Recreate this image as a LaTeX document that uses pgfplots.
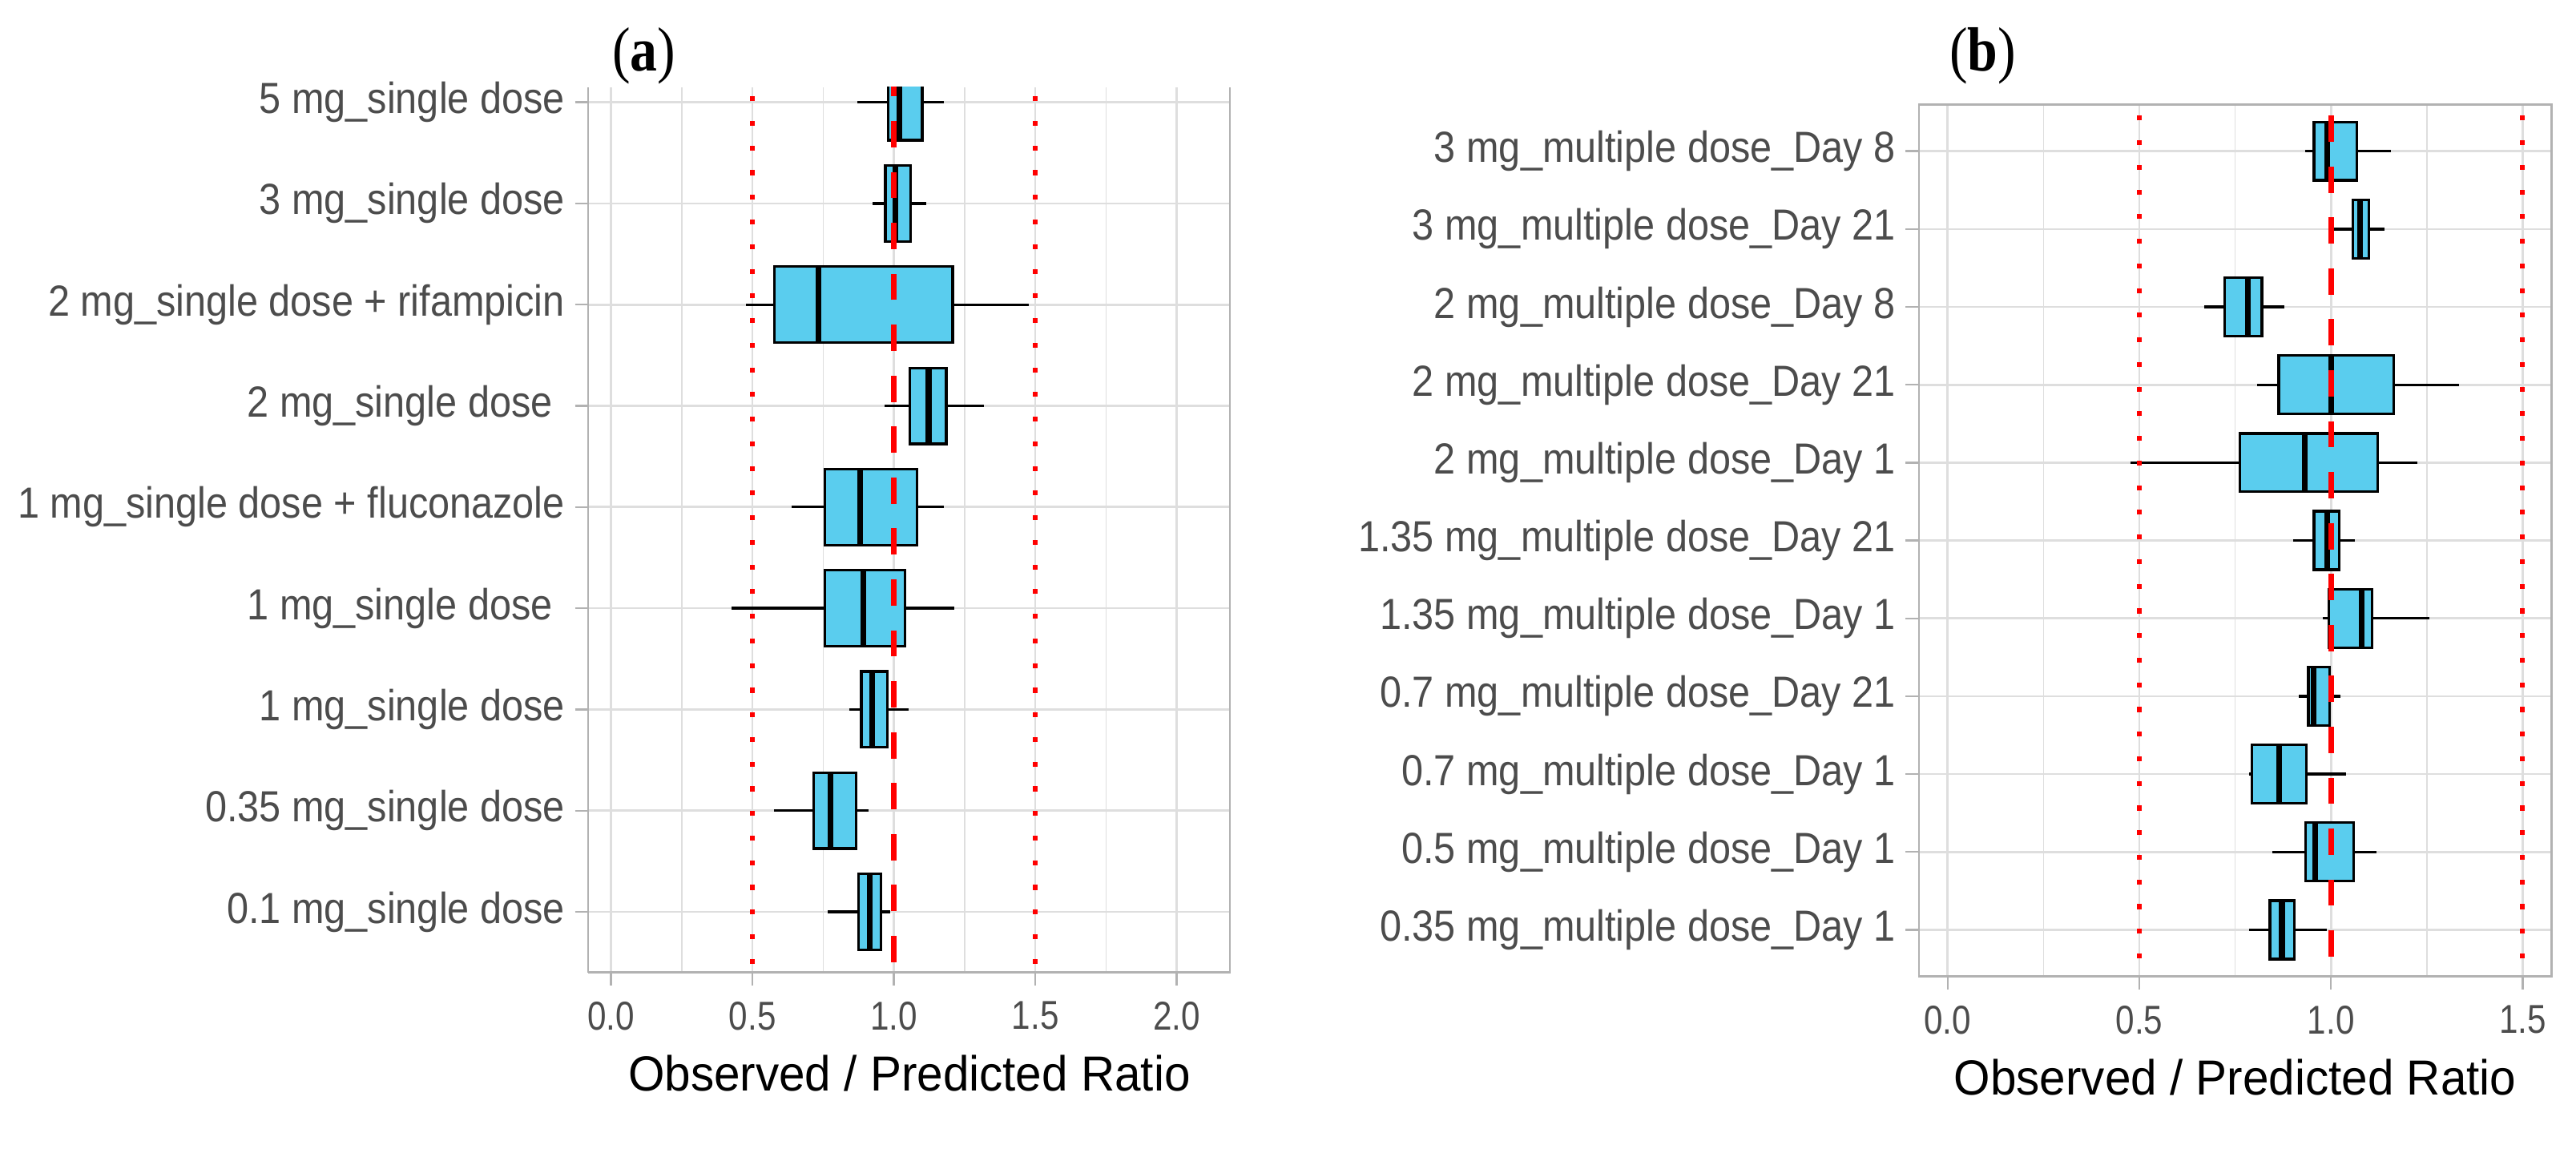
\documentclass[border=0pt]{standalone}
\usepackage{fontspec}
\setmainfont{Liberation Sans}
\newfontfamily\ysf{Liberation Sans}[FakeStretch=0.895]
\newfontfamily\xsf{Liberation Sans}[FakeStretch=0.84]
\newfontfamily\labsf{Liberation Sans}[FakeStretch=0.95]
\newfontfamily\titlesf{Liberation Serif}[FakeStretch=0.87]
\usepackage{pgfplots}
\pgfplotsset{compat=1.18}
\usepgfplotslibrary{statistics}

\definecolor{boxc}{RGB}{90,205,238}
\definecolor{grey70}{gray}{0.70}
\definecolor{grey87}{gray}{0.87}
\definecolor{grey30}{gray}{0.30}
\definecolor{refred}{RGB}{255,0,0}

\pgfplotsset{
  ggbox/.style={
    scale only axis,
    anchor=south west,
    tick align=outside,
    major tick length=8pt,
    minor tick length=0pt,
    tick style={grey70, line width=1.2pt},
    axis line style={grey70, line width=1.3pt, -},
    xmajorgrids, ymajorgrids, xminorgrids,
    major grid style={grey87, line width=1.3pt},
    minor grid style={grey87, line width=0.8pt},
    minor x tick num=1,
    yticklabel style={font=\ysf\fontsize{26.5}{30}\selectfont, text=grey30,
      anchor=east, inner sep=0pt, xshift=-6pt},
    xticklabel style={font=\xsf\fontsize{24.5}{28}\selectfont, text=grey30,
      anchor=north, inner sep=0pt, yshift=-9.5pt},
    xlabel={Observed / Predicted Ratio},
    xlabel style={font=\labsf\fontsize{30}{34}\selectfont, text=black,
      at={(axis description cs:0.5,0)}, anchor=base, yshift=-72pt},
    boxplot/draw direction=x,
    boxplot/box extend=0.75,
    boxplot/whisker extend=0,
    boxplot/every box/.style={draw=black, fill=boxc, line width=1.6pt},
    boxplot/every whisker/.style={black, line width=1.6pt},
    boxplot/every median/.style={black, line width=3.5pt},
  },
  % position, lower whisker, lower quartile, median, upper quartile, upper whisker
  bx/.style n args={6}{boxplot prepared={draw position=#1, lower whisker=#2,
      lower quartile=#3, median=#4, upper quartile=#5, upper whisker=#6}},
  dotline/.style={refred, line width=3pt, dash pattern=on 3pt off 12pt},
  dashline/.style={refred, line width=3.5pt, dash pattern=on 16pt off 15pt},
}

\begin{document}
\begin{tikzpicture}
\useasboundingbox (0,0) rectangle (1568pt,699pt);

\begin{axis}[ggbox, at={(358pt,107pt)}, width=391pt, height=539pt,
  xmin=-0.081, xmax=2.19, ymin=0.4, ymax=9.15,
  axis x line*=bottom, axis y line*=left,
  xtick={0,0.5,1,1.5,2}, xticklabels={0.0,0.5,1.0,1.5,2.0},
  ytick={1,...,9},
  yticklabels={0.1 mg\_single dose, 0.35 mg\_single dose, 1 mg\_single dose,
    1 mg\_single dose\kern0.28em, 1 mg\_single dose + fluconazole,
    2 mg\_single dose\kern0.28em, 2 mg\_single dose + rifampicin,
    3 mg\_single dose, 5 mg\_single dose}]
\addplot[bx={1}{0.766}{0.874}{0.914}{0.954}{0.987}] coordinates {};
\addplot[bx={2}{0.577}{0.717}{0.775}{0.866}{0.911}] coordinates {};
\addplot[bx={3}{0.841}{0.885}{0.924}{0.976}{1.053}] coordinates {};
\addplot[bx={4}{0.427}{0.756}{0.893}{1.039}{1.213}] coordinates {};
\addplot[bx={5}{0.638}{0.756}{0.880}{1.081}{1.178}] coordinates {};
\addplot[bx={6}{0.968}{1.056}{1.123}{1.185}{1.318}] coordinates {};
\addplot[bx={7}{0.478}{0.577}{0.733}{1.208}{1.476}] coordinates {};
\addplot[bx={8}{0.924}{0.970}{1.006}{1.059}{1.114}] coordinates {};
\addplot[bx={9}{0.872}{0.980}{1.020}{1.100}{1.178}] coordinates {};
\addplot[dotline] coordinates {(0.5,0) (0.5,10)};
\addplot[dotline] coordinates {(1.5,0) (1.5,10)};
\addplot[dashline] coordinates {(1,0) (1,10)};
\draw[grey70, line width=1.3pt] (rel axis cs:1,0) -- (rel axis cs:1,1);
\end{axis}

\begin{axis}[ggbox, at={(1168pt,104.6pt)}, width=385pt, height=530.8pt,
  xmin=-0.075, xmax=1.575, ymin=0.4, ymax=11.6,
  tick pos=left,
  xtick={0,0.5,1,1.5}, xticklabels={0.0,0.5,1.0,1.5},
  ytick={1,...,11},
  yticklabels={0.35 mg\_multiple dose\_Day 1, 0.5 mg\_multiple dose\_Day 1,
    0.7 mg\_multiple dose\_Day 1, 0.7 mg\_multiple dose\_Day 21,
    1.35 mg\_multiple dose\_Day 1, 1.35 mg\_multiple dose\_Day 21,
    2 mg\_multiple dose\_Day 1, 2 mg\_multiple dose\_Day 21,
    2 mg\_multiple dose\_Day 8, 3 mg\_multiple dose\_Day 21,
    3 mg\_multiple dose\_Day 8}]
\addplot[bx={1}{0.786}{0.841}{0.872}{0.905}{0.990}] coordinates {};
\addplot[bx={2}{0.848}{0.934}{0.959}{1.059}{1.118}] coordinates {};
\addplot[bx={3}{0.786}{0.794}{0.864}{0.936}{1.039}] coordinates {};
\addplot[bx={4}{0.916}{0.941}{0.954}{0.997}{1.024}] coordinates {};
\addplot[bx={5}{0.978}{0.995}{1.080}{1.107}{1.256}] coordinates {};
\addplot[bx={6}{0.902}{0.956}{0.990}{1.021}{1.062}] coordinates {};
\addplot[bx={7}{0.478}{0.763}{0.931}{1.122}{1.225}] coordinates {};
\addplot[bx={8}{0.808}{0.864}{1.000}{1.163}{1.334}] coordinates {};
\addplot[bx={9}{0.670}{0.723}{0.784}{0.820}{0.878}] coordinates {};
\addplot[bx={10}{1.007}{1.057}{1.076}{1.099}{1.140}] coordinates {};
\addplot[bx={11}{0.932}{0.956}{0.990}{1.068}{1.156}] coordinates {};
\addplot[dotline] coordinates {(0.5,0) (0.5,12)};
\addplot[dotline] coordinates {(1.5,0) (1.5,12)};
\addplot[dashline] coordinates {(1,0) (1,12)};
\end{axis}

\node[anchor=base, font=\titlesf\fontsize{38}{40}\selectfont] at (392pt,656pt) {(\textbf{a})};
\node[anchor=base, font=\titlesf\fontsize{38}{40}\selectfont] at (1207pt,656pt) {(\textbf{b})};
\end{tikzpicture}
\end{document}
